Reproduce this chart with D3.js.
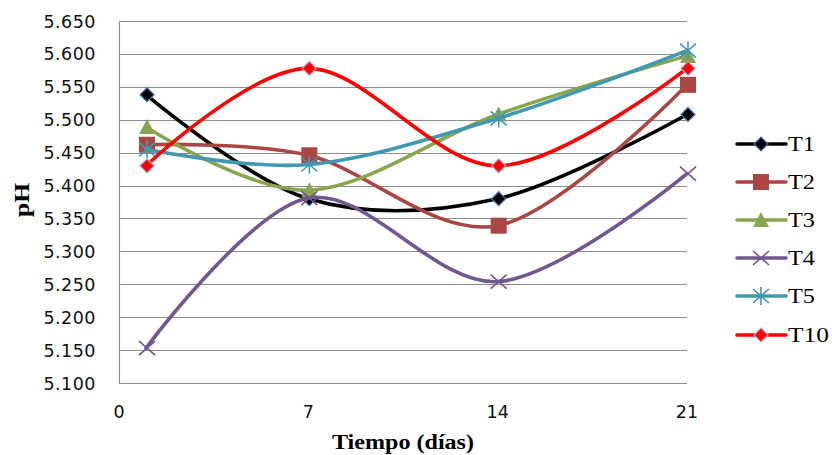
<!DOCTYPE html>
<html><head><meta charset="utf-8">
<script src="https://cdn.jsdelivr.net/npm/d3@7"></script>
<style>body{margin:0;background:#fff}svg{display:block}</style>
</head><body>
<svg id="c" width="832" height="455"></svg>
<script>
const days = [1, 7, 14, 21];
const seriesNames = ["T1", "T2", "T3", "T4", "T5", "T10"];
const T1 = [5.538, 5.380, 5.380, 5.508];
const T2 = [5.462, 5.446, 5.339, 5.553];
const T3 = [5.489, 5.393, 5.508, 5.597];
const T4 = [5.153, 5.381, 5.254, 5.418];
const T5 = [5.455, 5.432, 5.502, 5.605];
const T10 = [5.430, 5.578, 5.430, 5.578];
const xTicks = [0, 7, 14, 21];
const yTicks = [5.100, 5.150, 5.200, 5.250, 5.300, 5.350, 5.400, 5.450, 5.500, 5.550, 5.600, 5.650];

const values = [T1, T2, T3, T4, T5, T10];
const colors = ["#000000", "#AA4643", "#89A54E", "#71588F", "#4198AF", "#FF0000"];
const markers = ["diamond", "square", "triangle", "x", "star", "diamond2"];
const SERIF = "'Liberation Serif', 'DejaVu Serif', serif";

const svg = d3.select("#c");
const x = d3.scaleLinear().domain([0, 21]).range([119, 687]);
const y = d3.scaleLinear().domain([5.1, 5.65]).range([383, 21]);

svg.append("g").selectAll("line").data(yTicks).join("line")
  .attr("x1", 119).attr("x2", 687)
  .attr("y1", d => Math.round(y(d)) + 0.5).attr("y2", d => Math.round(y(d)) + 0.5)
  .attr("stroke", "#8c8c8c").attr("stroke-width", 1.2);
svg.append("line").attr("x1", 119.5).attr("x2", 119.5).attr("y1", y(5.65)).attr("y2", y(5.1) + 1)
  .attr("stroke", "#8c8c8c").attr("stroke-width", 1.2);

svg.append("g").selectAll("text").data(yTicks).join("text")
  .attr("x", 96).attr("y", d => y(d) + 6.5)
  .attr("text-anchor", "end")
  .style("font-family", "'DejaVu Sans'").style("font-size", "17.5px")
  .attr("letter-spacing", 0.5)
  .attr("fill", "#111")
  .text(d => d3.format(".3f")(d));

svg.append("g").selectAll("text").data(xTicks).join("text")
  .attr("x", d => x(d)).attr("y", 418)
  .attr("text-anchor", "middle")
  .style("font-family", "'DejaVu Sans'").style("font-size", "17.5px")
  .attr("fill", "#111")
  .text(d => d);

svg.append("text").attr("x", 332).attr("y", 449)
  .style("font-family", SERIF).style("font-weight", "bold").style("font-size", "21px")
  .attr("textLength", 142).attr("lengthAdjust", "spacingAndGlyphs")
  .text("Tiempo (días)");
svg.append("text").attr("transform", "translate(29,217) rotate(-90)")
  .style("font-family", SERIF).style("font-weight", "bold").style("font-size", "21px")
  .attr("textLength", 34).attr("lengthAdjust", "spacingAndGlyphs")
  .text("pH");

const line = d3.line().x(d => x(d[0])).y(d => y(d[1])).curve(d3.curveCardinal.tension(0));

function drawMarker(g, type, cx, cy, color) {
  if (type === "diamond") {
    g.append("path").attr("d", `M${cx},${cy-7}L${cx+7},${cy}L${cx},${cy+7}L${cx-7},${cy}Z`)
      .attr("fill", "#000").attr("stroke", "#4572A7").attr("stroke-width", 1.2);
  } else if (type === "diamond2") {
    g.append("path").attr("d", `M${cx},${cy-7}L${cx+7},${cy}L${cx},${cy+7}L${cx-7},${cy}Z`)
      .attr("fill", "#FF0000").attr("stroke", "#B3A2C7").attr("stroke-width", 1.2);
  } else if (type === "square") {
    g.append("rect").attr("x", cx - 8).attr("y", cy - 8).attr("width", 16).attr("height", 16)
      .attr("fill", color);
  } else if (type === "triangle") {
    g.append("path").attr("d", `M${cx},${cy-8}L${cx+8},${cy+7}L${cx-8},${cy+7}Z`).attr("fill", color);
  } else if (type === "x") {
    g.append("path").attr("d", `M${cx-8},${cy-7}L${cx+8},${cy+7}M${cx-8},${cy+7}L${cx+8},${cy-7}`)
      .attr("stroke", color).attr("stroke-width", 1.6);
  } else if (type === "star") {
    g.append("path").attr("d", `M${cx-8},${cy-7}L${cx+8},${cy+7}M${cx-8},${cy+7}L${cx+8},${cy-7}M${cx},${cy-9}L${cx},${cy+9}`)
      .attr("stroke", color).attr("stroke-width", 1.6);
  }
}

values.forEach((vals, i) => {
  const pts = days.map((d, j) => [d, vals[j]]);
  const g = svg.append("g");
  g.append("path").attr("d", line(pts)).attr("fill", "none")
    .attr("stroke", colors[i]).attr("stroke-width", 3.6).attr("stroke-linecap", "round");
  pts.forEach(p => drawMarker(g, markers[i], x(p[0]) + 1, y(p[1]), colors[i]));
});

const legY = [144, 182, 220, 258, 296, 335];
seriesNames.forEach((name, i) => {
  const g = svg.append("g");
  const cy = legY[i];
  g.append("line").attr("x1", 737).attr("x2", 786).attr("y1", cy).attr("y2", cy)
    .attr("stroke", colors[i]).attr("stroke-width", 3.6).attr("stroke-linecap", "round");
  drawMarker(g, markers[i], 761, cy, colors[i]);
  g.append("text").attr("x", 788).attr("y", cy + 7)
    .style("font-family", SERIF).style("font-size", "20px")
    .attr("textLength", name.length === 2 ? 27 : 41).attr("lengthAdjust", "spacingAndGlyphs")
    .text(name);
});
</script>
</body></html>
